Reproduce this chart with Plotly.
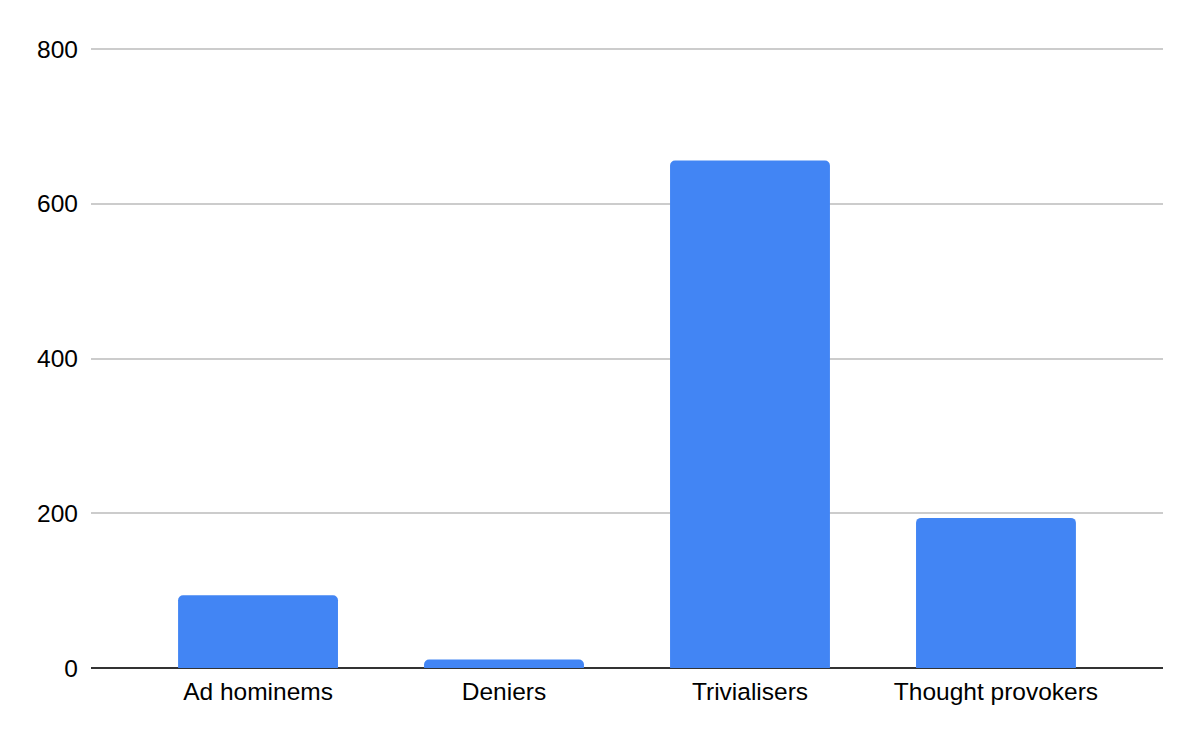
import plotly.graph_objects as go

categories = ["Ad hominems", "Deniers", "Trivialisers", "Thought provokers"]
values = [94, 11, 656, 194]
y_ticks = [0, 200, 400, 600, 800]

fig = go.Figure(go.Bar(
    x=categories, y=values,
    marker=dict(color="#4285F4", cornerradius=5, line=dict(width=0)),
    width=0.65,
))
fig.update_layout(
    width=1200, height=742,
    margin=dict(l=83, r=45, t=38, b=82),
    paper_bgcolor="white", plot_bgcolor="white",
    font=dict(family="Liberation Sans, Arial", size=24.5, color="#000000"),
    showlegend=False,
)
fig.update_xaxes(
    range=[-0.679, 3.679], showgrid=False, showline=False, ticks="",
    tickfont=dict(size=24.5), ticklabelstandoff=6,
)
fig.update_yaxes(
    range=[0, 803.9], tickvals=y_ticks, showgrid=True, gridcolor="#cccccc", gridwidth=1.5,
    zeroline=True, zerolinecolor="#333333", zerolinewidth=2,
    showline=False, ticks="", ticklabelstandoff=12, tickfont=dict(size=24.5),
)
fig.write_html("out.html")
